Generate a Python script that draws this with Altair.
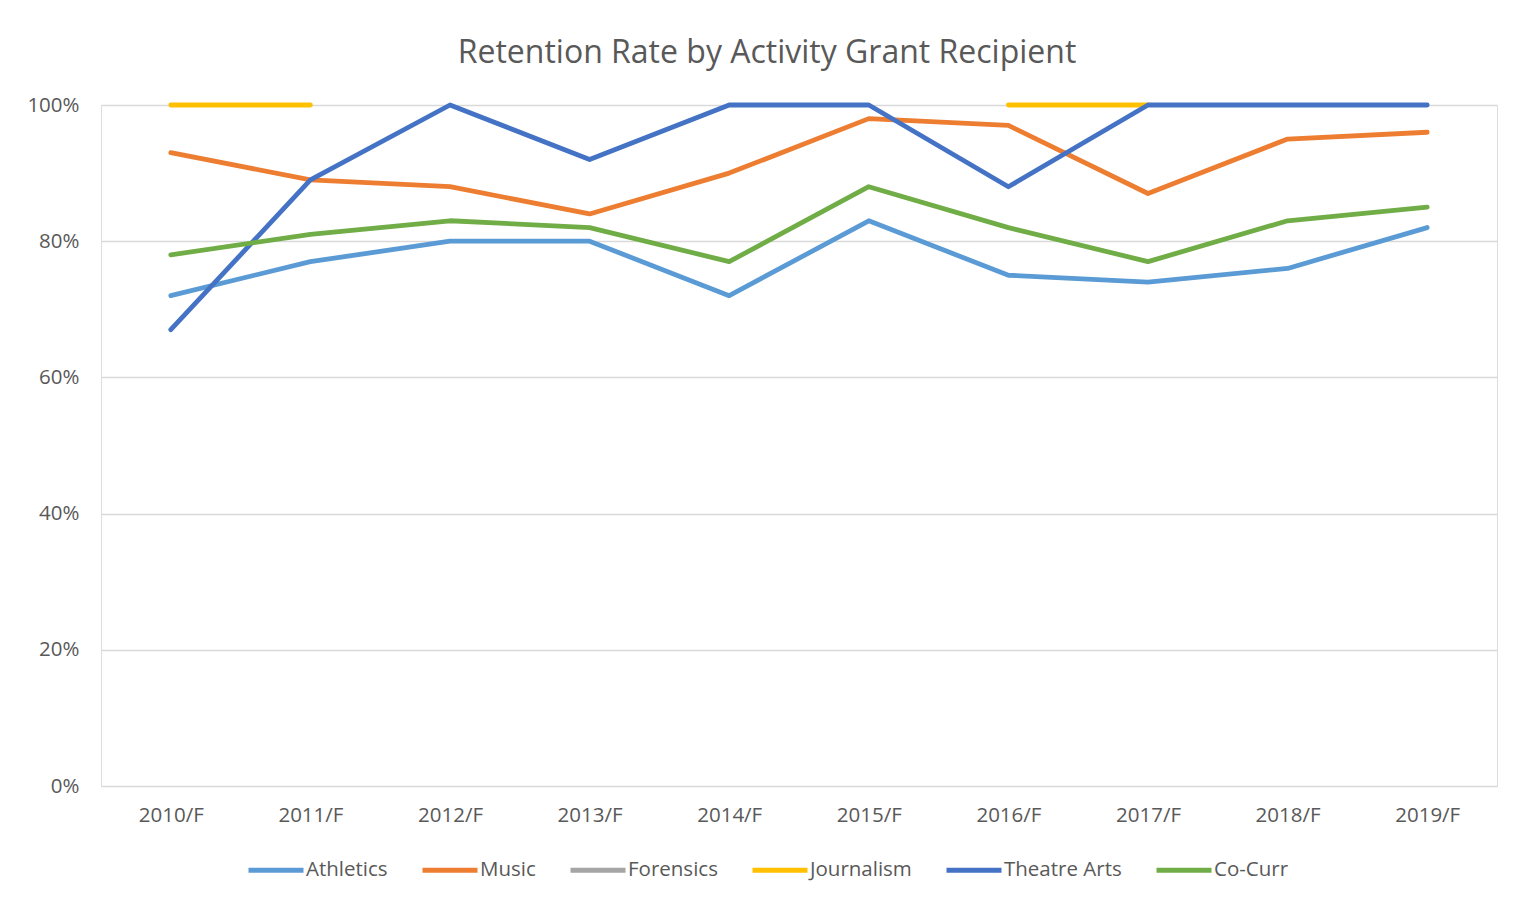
import altair as alt
import pandas as pd

years = ["2010/F", "2011/F", "2012/F", "2013/F", "2014/F",
         "2015/F", "2016/F", "2017/F", "2018/F", "2019/F"]
series_names = ["Athletics", "Music", "Forensics", "Journalism", "Theatre Arts", "Co-Curr"]
series_colors = ["#5B9BD5", "#ED7D31", "#A5A5A5", "#FFC000", "#4472C4", "#70AD47"]

athletics = [72, 77, 80, 80, 72, 83, 75, 74, 76, 82]
music = [93, 89, 88, 84, 90, 98, 97, 87, 95, 96]
forensics = [None, None, None, None, None, None, None, None, None, None]
journalism = [100, 100, None, None, None, None, 100, 100, None, None]
theatre_arts = [67, 89, 100, 92, 100, 100, 88, 100, 100, 100]
co_curr = [78, 81, 83, 82, 77, 88, 82, 77, 83, 85]

all_series = [athletics, music, forensics, journalism, theatre_arts, co_curr]

rows = []
for name, vals in zip(series_names, all_series):
    for yr, v in zip(years, vals):
        rows.append({"Year": yr, "Series": name,
                     "Rate": (v / 100.0) if v is not None else None})
df = pd.DataFrame(rows)

FONT = "Open Sans"
GREY = "#595959"

chart = (
    alt.Chart(df)
    .mark_line(strokeWidth=4.8, strokeCap="round", strokeJoin="round",
               invalid="break-paths-show-domains")
    .encode(
        x=alt.X("Year:O", sort=years,
                scale=alt.Scale(type="point", padding=0.5),
                axis=alt.Axis(title=None, labelAngle=0, ticks=False, domain=False,
                              labelFont=FONT, labelFontSize=20.5, labelColor=GREY,
                              labelPadding=19, grid=False)),
        y=alt.Y("Rate:Q",
                scale=alt.Scale(domain=[0, 1], nice=False, zero=True),
                axis=alt.Axis(title=None, format=".0%", values=[0, 0.2, 0.4, 0.6, 0.8, 1.0],
                              ticks=False, domain=False, grid=True,
                              gridColor="#D9D9D9", gridWidth=1.3,
                              labelFont=FONT, labelFontSize=20.5, labelColor=GREY,
                              labelPadding=22)),
        color=alt.Color("Series:N",
                        scale=alt.Scale(domain=series_names, range=series_colors),
                        sort=series_names,
                        legend=alt.Legend(title=None, orient="none", direction="horizontal",
                                          legendX=145, legendY=735,
                                          symbolType="stroke", symbolSize=3025,
                                          symbolStrokeWidth=4.8,
                                          labelFont=FONT, labelFontSize=20.5,
                                          labelColor=GREY, labelOffset=0,
                                          columnPadding=24, labelLimit=300)),
    )
    .properties(
        width=1396, height=681,
        title=alt.TitleParams("Retention Rate by Activity Grant Recipient",
                              font=FONT, fontSize=32, fontWeight="normal",
                              color=GREY, anchor="middle", dx=-32, offset=25),
        autosize=alt.AutoSizeParams(type="none"),
        padding={"left": 93, "top": 97, "right": 9, "bottom": 110},
    )
    .configure_view(stroke=None)
    .configure(background="white")
)

chart.save("out.html", embed_options={"renderer": "svg", "actions": False})
